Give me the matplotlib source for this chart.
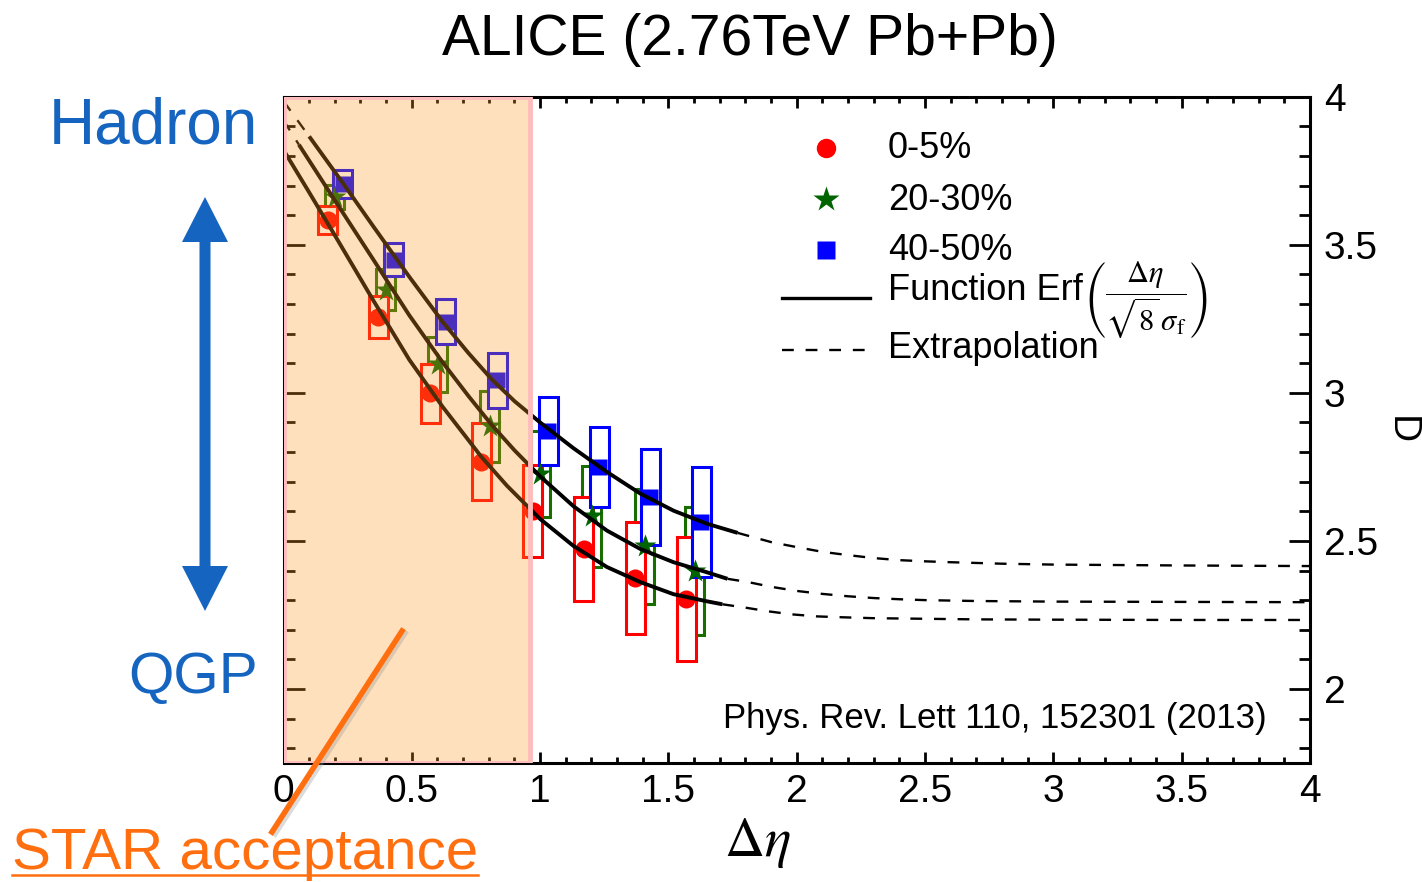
import matplotlib
matplotlib.use('Agg')
import matplotlib.pyplot as plt
from matplotlib.patches import Rectangle, FancyArrow
from matplotlib.ticker import MultipleLocator, FixedLocator

plt.rcParams['font.family'] = ['Liberation Sans', 'DejaVu Sans']
plt.rcParams['mathtext.fontset'] = 'stix'

# --- data ---
labels = ['0-5%', '20-30%', '40-50%']

x_c0 = [0.172, 0.370, 0.571, 0.770, 0.972, 1.170, 1.371, 1.570]
d_c0 = [3.585, 3.257, 2.998, 2.768, 2.600, 2.472, 2.374, 2.303]
sys_c0 = [0.047, 0.071, 0.100, 0.130, 0.155, 0.175, 0.190, 0.209]

x_c20 = [0.200, 0.398, 0.602, 0.803, 1.000, 1.202, 1.407, 1.603]
d_c20 = [3.662, 3.348, 3.096, 2.887, 2.725, 2.583, 2.482, 2.398]
sys_c20 = [0.040, 0.069, 0.093, 0.120, 0.145, 0.170, 0.194, 0.216]

x_c40 = [0.230, 0.430, 0.632, 0.832, 1.031, 1.230, 1.430, 1.628]
d_c40 = [3.706, 3.449, 3.240, 3.042, 2.870, 2.749, 2.647, 2.563]
sys_c40 = [0.047, 0.056, 0.076, 0.093, 0.115, 0.135, 0.162, 0.185]

# fitted erf curves (solid) and extrapolations (dashed)
fit_top_x = [0.10, 0.23, 0.35, 0.49, 0.62, 0.72, 0.81, 0.90, 1.00, 1.13, 1.26, 1.39, 1.52, 1.65, 1.77]
fit_top_y = [3.866, 3.710, 3.562, 3.392, 3.240, 3.135, 3.047, 2.972, 2.900, 2.813, 2.733, 2.660, 2.602, 2.558, 2.527]
ext_top_head_x = [0.0, 0.10]
ext_top_head_y = [3.985, 3.866]
ext_top_x = [1.77, 1.90, 2.0, 2.1, 2.2, 2.3, 2.4, 2.5, 2.6, 2.8, 3.0, 3.5, 4.0]
ext_top_y = [2.527, 2.496, 2.479, 2.463, 2.452, 2.442, 2.435, 2.431, 2.428, 2.423, 2.420, 2.417, 2.415]

fit_mid_x = [0.06, 0.20, 0.35, 0.49, 0.62, 0.72, 0.81, 0.90, 1.00, 1.13, 1.26, 1.39, 1.52, 1.65, 1.73]
fit_mid_y = [3.838, 3.650, 3.450, 3.262, 3.103, 2.990, 2.893, 2.806, 2.718, 2.617, 2.535, 2.473, 2.428, 2.394, 2.372]
ext_mid_head_x = [0.0, 0.06]
ext_mid_head_y = [3.920, 3.838]
ext_mid_x = [1.73, 1.81, 1.90, 2.0, 2.1, 2.2, 2.3, 2.4, 2.5, 2.7, 3.0, 3.5, 4.0]
ext_mid_y = [2.372, 2.361, 2.345, 2.331, 2.321, 2.313, 2.307, 2.303, 2.300, 2.297, 2.295, 2.294, 2.293]

fit_low_x = [0.0, 0.10, 0.20, 0.35, 0.49, 0.62, 0.77, 0.87, 1.00, 1.13, 1.26, 1.39, 1.52, 1.65, 1.71]
fit_low_y = [3.820, 3.677, 3.532, 3.312, 3.112, 2.953, 2.785, 2.687, 2.574, 2.483, 2.412, 2.361, 2.320, 2.296, 2.286]
ext_low_x = [1.71, 1.79, 1.89, 1.98, 2.08, 2.18, 2.3, 2.5, 2.7, 3.0, 3.5, 4.0]
ext_low_y = [2.286, 2.276, 2.262, 2.252, 2.245, 2.242, 2.239, 2.237, 2.235, 2.234, 2.233, 2.233]

star_acc = [0.0, 0.96]   # STAR acceptance in delta eta

xtick_vals = [0, 0.5, 1, 1.5, 2, 2.5, 3, 3.5, 4]
xtick_labels = ['0', '0.5', '1', '1.5', '2', '2.5', '3', '3.5', '4']
ytick_vals = [2, 2.5, 3, 3.5, 4]
ytick_labels = ['2', '2.5', '3', '3.5', '4']

red = '#ff0000'
green = '#006400'
green_box = '#1a6e00'
blue = '#0000ff'

fig = plt.figure(figsize=(14.22, 8.82), dpi=100)
ax = fig.add_axes([283.5/1422, 1 - 763/882, (1310 - 283.5)/1422, (763 - 96.7)/882])
ax.set_xlim(0, 4)
ax.set_ylim(1.75, 4.0)

# systematic boxes: green first, then red, then blue on top
hw = 0.037
for xs, ds, ss, col, z in [(x_c20, d_c20, sys_c20, green_box, 2.0),
                           (x_c0, d_c0, sys_c0, red, 2.1),
                           (x_c40, d_c40, sys_c40, blue, 2.2)]:
    for x, d, s in zip(xs, ds, ss):
        ax.add_patch(Rectangle((x - hw, d - s), 2 * hw, 2 * s, facecolor='white',
                               edgecolor=col, lw=2.2, zorder=z))

ax.plot(x_c0, d_c0, 'o', color=red, ms=13, mec='none', zorder=3)
ax.plot(x_c20, d_c20, '*', color=green, ms=17, mec='none', zorder=3)
ax.plot(x_c40, d_c40, 's', color=blue, ms=12, mec='none', zorder=3)

for fx, fy in [(fit_top_x, fit_top_y), (fit_mid_x, fit_mid_y), (fit_low_x, fit_low_y)]:
    ax.plot(fx, fy, '-', color='black', lw=2.8, zorder=4, solid_capstyle='butt',
            solid_joinstyle='round')
for ex, ey in [(ext_top_head_x, ext_top_head_y), (ext_top_x, ext_top_y),
               (ext_mid_head_x, ext_mid_head_y), (ext_mid_x, ext_mid_y),
               (ext_low_x, ext_low_y)]:
    ax.plot(ex, ey, color='black', lw=1.7, ls=(0, (5, 5)), zorder=4)

# STAR acceptance band, drawn over everything like a transparent sheet
ax.add_patch(Rectangle((star_acc[0], 1.75), star_acc[1] - star_acc[0], 2.25,
                       facecolor=(1.0, 0.6, 0.15), alpha=0.3, edgecolor='none', zorder=6))
ax.add_patch(Rectangle((star_acc[0], 1.75), star_acc[1] - star_acc[0], 2.25,
                       facecolor='none', edgecolor='#ffbcbc', lw=3.5, zorder=6.1))

ax.xaxis.set_major_locator(FixedLocator(xtick_vals))
ax.set_xticklabels(xtick_labels)
ax.yaxis.set_major_locator(FixedLocator(ytick_vals))
ax.set_yticklabels(ytick_labels)
ax.xaxis.set_minor_locator(MultipleLocator(0.1))
ax.yaxis.set_minor_locator(MultipleLocator(0.1))
ax.tick_params(which='both', direction='in', top=True, right=True, left=True, bottom=True,
               labelleft=False, labelright=True, width=2, colors='black', labelsize=28)
ax.tick_params(axis='x', which='major', length=8, pad=8)
ax.tick_params(axis='x', which='minor', length=4.5)
ax.tick_params(axis='y', which='major', length=15, pad=10)
ax.tick_params(axis='y', which='minor', length=8)
for sp in ax.spines.values():
    sp.set_linewidth(2.2)

ax.set_xlabel(r'$\Delta\eta$', fontsize=40)
ax.xaxis.set_label_coords(0.462, -0.08)
ax.yaxis.set_label_position('right')
ax.set_ylabel('D', rotation=-90, fontsize=28, labelpad=29)

ax.text(3.83, 1.9, 'Phys. Rev. Lett 110, 152301 (2013)', ha='right', va='center', fontsize=25)

# overlay in figure pixels for annotations and legend
ov = fig.add_axes([0, 0, 1, 1], zorder=5)
ov.set_xlim(0, 1422)
ov.set_ylim(882, 0)
ov.set_facecolor('none')
ov.axis('off')

ov.text(750, 40, 'ALICE (2.76TeV Pb+Pb)', ha='center', va='center', fontsize=41)

hcol = '#1565c0'
ov.text(258, 126, 'Hadron', ha='right', va='center', fontsize=46, color=hcol)
ov.text(258, 678, 'QGP', ha='right', va='center', fontsize=42, color=hcol)
ov.add_patch(FancyArrow(205, 404, 0, -207, width=11, head_width=46, head_length=45,
                        length_includes_head=True, color=hcol, lw=0))
ov.add_patch(FancyArrow(205, 404, 0, 207, width=11, head_width=46, head_length=45,
                        length_includes_head=True, color=hcol, lw=0))

orange = '#ff6f10'
ov.plot([275, 405], [834, 633], color='#999999', lw=4, alpha=0.35)
ov.plot([272, 402], [832, 631], color=orange, lw=4)
st = ov.text(12, 869, 'STAR acceptance', ha='left', va='baseline', fontsize=42, color=orange)

# legend
ov.plot([826], [148], 'o', color=red, ms=14, mec='none')
ov.plot([826], [199], '*', color=green, ms=19, mec='none')
ov.plot([826], [250], 's', color=blue, ms=13, mec='none')
ov.plot([782, 870], [298, 298], color='black', lw=2.4)
ov.plot([782, 870], [350, 350], color='black', lw=1.7, ls=(0, (5, 5)))
for yy, lab in zip([149, 200, 251], labels):
    ov.text(888, yy, lab, ha='left', va='center', fontsize=26)
ov.text(888, 291, 'Function Erf', ha='left', va='center', fontsize=26)
ov.text(1083, 300,
        r'$\left(\dfrac{\Delta\eta}{\sqrt{8}\,\sigma_{\rm f}}\right)$',
        ha='left', va='center', fontsize=22)
ov.text(888, 348, 'Extrapolation', ha='left', va='center', fontsize=26)

# underline for the STAR label
fig.canvas.draw()
bb = st.get_window_extent()
inv = ov.transData.inverted()
(x0, _), (x1, _) = inv.transform([[bb.x0, bb.y0], [bb.x1, bb.y0]])
ov.plot([x0, x1], [875, 875], color=orange, lw=1.8)

fig.savefig('out.png', dpi=100)
